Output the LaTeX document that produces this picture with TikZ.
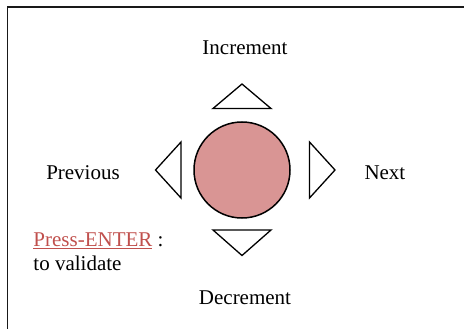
\documentclass[tikz,border=0pt]{standalone}
\usepackage{fontspec}
\setmainfont{Liberation Serif}
\definecolor{btnfill}{HTML}{D99594}
\definecolor{linkred}{HTML}{C0504D}
\begin{document}
\begin{tikzpicture}[x=1pt,y=-1pt,
  lbl/.style={inner sep=0pt,font=\fontsize{21}{24}\selectfont},
  arrowtri/.style={draw=black,line width=1.3pt,line join=miter,fill=white},
  frameline/.style={draw=black!90,line width=1.6pt}]
\useasboundingbox (0,0) rectangle (464,329);
% frame
\coordinate (fbl) at (7.3,335);
\coordinate (ftl) at (7.3,7.3);
\coordinate (ftr) at (470,7.3);
\draw[frameline] (fbl) -- (ftl) -- (ftr);
% central button
\node[circle,draw=black,line width=1.5pt,fill=btnfill,minimum size=96pt,inner sep=0pt] (btn) at (242,170) {};
% triangles
\coordinate (ua) at (242,84);
\coordinate (ub1) at (213,108.5);
\coordinate (ub2) at (271,108.5);
\draw[arrowtri] (ua) -- (ub2) -- (ub1) -- cycle;
\coordinate (da) at (242,255.5);
\coordinate (db1) at (213,230);
\coordinate (db2) at (271,230);
\draw[arrowtri] (da) -- (db1) -- (db2) -- cycle;
\coordinate (la) at (155.5,170);
\coordinate (lb1) at (181,142);
\coordinate (lb2) at (181,198);
\draw[arrowtri] (la) -- (lb1) -- (lb2) -- cycle;
\coordinate (ra) at (335,170);
\coordinate (rb1) at (309.5,142);
\coordinate (rb2) at (309.5,198);
\draw[arrowtri] (ra) -- (rb1) -- (rb2) -- cycle;
% labels
\node[lbl,anchor=base] (inc) at (245,55) {Increment};
\node[lbl,anchor=base] (dec) at (245,304) {Decrement};
\node[lbl,anchor=base] (prev) at (83,179.3) {Previous};
\node[lbl,anchor=base west] (next) at (364.3,179.3) {Next};
\node[lbl,anchor=base west] (enter) at (33.3,246.7) {\textcolor{linkred}{\underline{Press-ENTER}} :};
\node[lbl,anchor=base west] (valid) at (33.3,270.7) {to validate};
\end{tikzpicture}
\end{document}
